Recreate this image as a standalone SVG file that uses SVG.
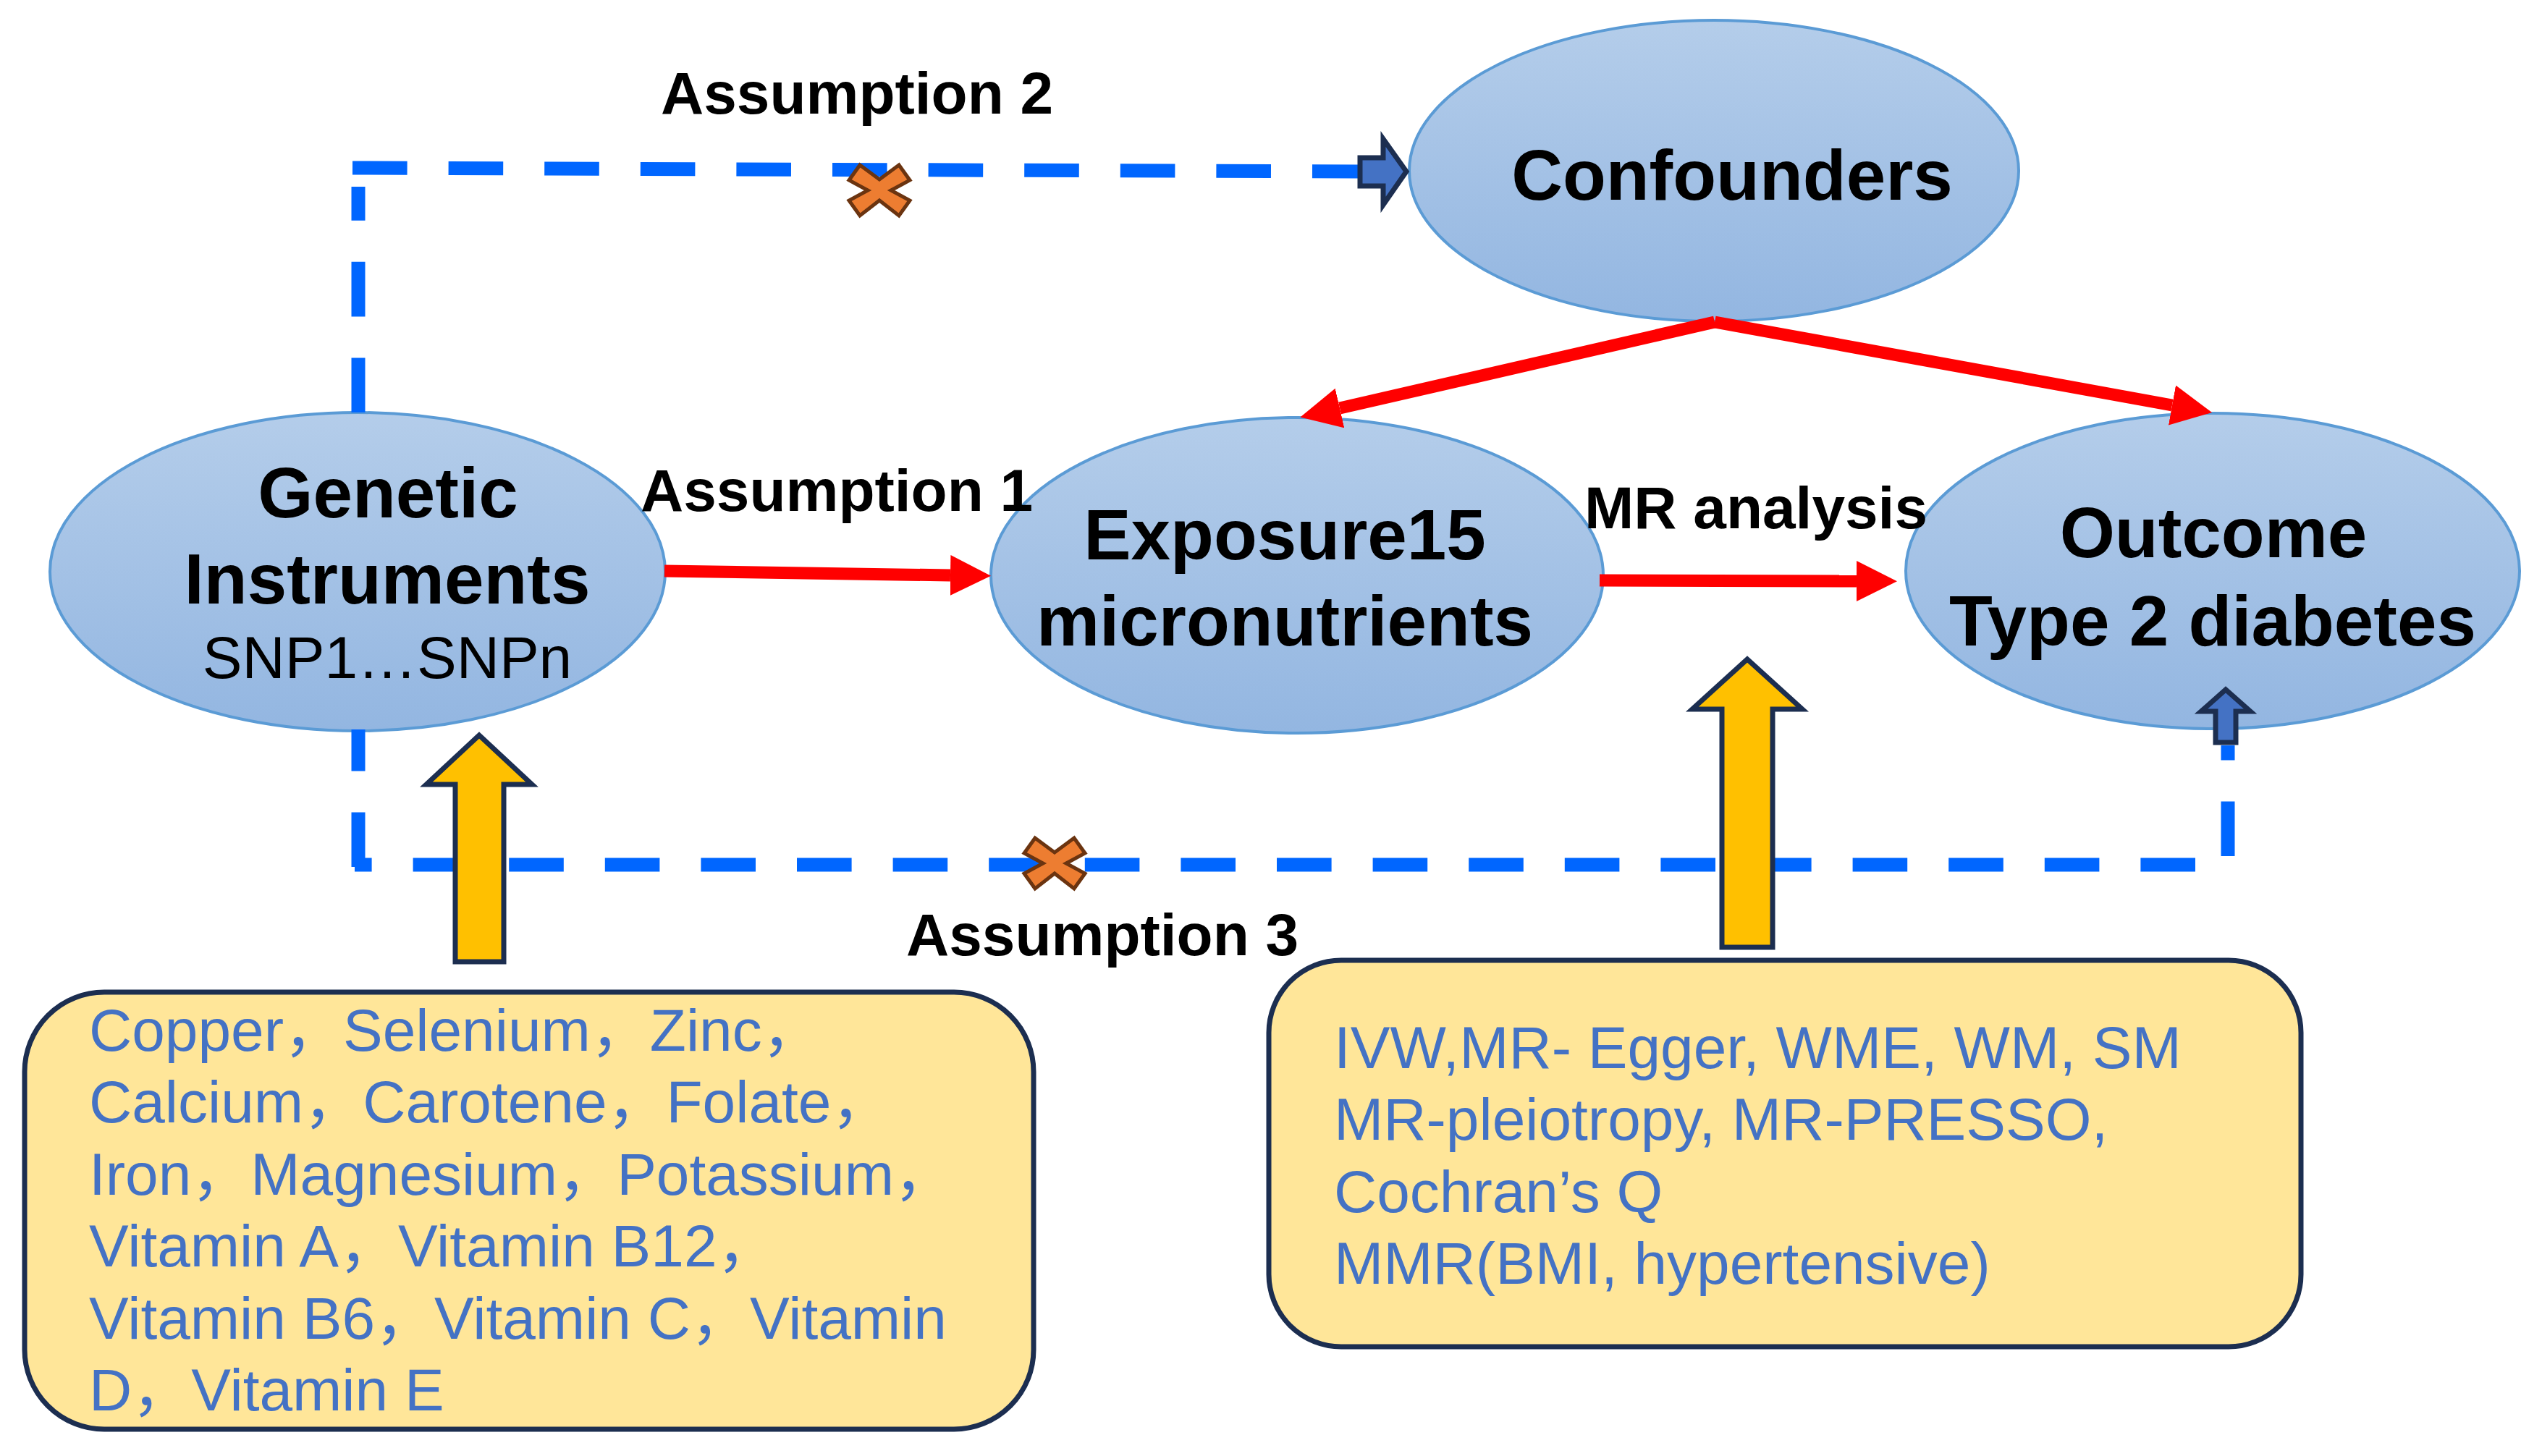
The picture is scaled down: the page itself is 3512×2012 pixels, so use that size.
<svg xmlns="http://www.w3.org/2000/svg" width="3512" height="2012" viewBox="0 0 3512 2012">
<defs>
  <linearGradient id="ellG" x1="0" y1="0" x2="0" y2="1">
    <stop offset="0" stop-color="#B4CDEA"/>
    <stop offset="1" stop-color="#93B6E1"/>
  </linearGradient>
  <marker id="redHead" viewBox="0 0 56 56" refX="0" refY="28" markerWidth="56" markerHeight="56" markerUnits="userSpaceOnUse" orient="auto">
    <path d="M0,0 L56,28 L0,56 Z" fill="#FF0000"/>
  </marker>
  <path id="xmark" d="M-42,-14 L-27,-35 L0,-15 L27,-35 L42,-14 L16,0 L42,14 L27,35 L0,14 L-27,35 L-42,14 L-16,0 Z"/>
</defs>
<style>
  .node ellipse { fill: url(#ellG); stroke: #5B9BD5; stroke-width: 4; }
  .title { font-family: "Liberation Sans", Arial, sans-serif; font-weight: bold; font-size: 98px; fill: #000; text-anchor: middle; }
  .sub { font-family: "Liberation Sans", Arial, sans-serif; font-size: 82px; fill: #000; text-anchor: middle; }
  .label { font-family: "Liberation Sans", Arial, sans-serif; font-weight: bold; font-size: 82px; fill: #000; }
  .dash { fill: none; stroke: #0066FF; stroke-width: 19; stroke-dasharray: 75.6 57; }
  .red { fill: none; stroke: #FF0000; stroke-width: 17; marker-end: url(#redHead); }
  .blk { fill: #4472C4; stroke: #1C2E50; stroke-width: 7; }
  .yarrow { fill: #FFC000; stroke: #1C2E50; stroke-width: 7; }
  .box rect { fill: #FFE699; stroke: #1C2E50; stroke-width: 7; }
  .boxtext { font-family: "Liberation Sans", Arial, "Noto Sans CJK SC", sans-serif; font-size: 82px; fill: #4472C4; }
  .xm { fill: #ED7D31; stroke: #6B3410; stroke-width: 5; }
</style>

<g id="node-genetic" class="node">
  <ellipse cx="494" cy="790" rx="425" ry="220"/>
  <text class="title" x="536" y="715">Genetic</text>
  <text class="title" x="535" y="834">Instruments</text>
  <text class="sub" x="535" y="937">SNP1…SNPn</text>
</g>
<g id="node-exposure" class="node">
  <ellipse cx="1792" cy="795" rx="423" ry="218"/>
  <text class="title" x="1775" y="773">Exposure15</text>
  <text class="title" x="1775" y="892">micronutrients</text>
</g>
<g id="node-confounders" class="node">
  <ellipse cx="2368" cy="236" rx="421" ry="208"/>
  <text class="title" x="2393" y="276">Confounders</text>
</g>
<g id="node-outcome" class="node">
  <ellipse cx="3057" cy="789" rx="424" ry="218"/>
  <text class="title" x="3058" y="770">Outcome</text>
  <text class="title" x="3057" y="892">Type 2 diabetes</text>
</g>

<g id="connectors">
  <path class="dash" d="M495,570 V258"/>
  <path class="dash" d="M487,232 L1878,237"/>
  <path class="dash" d="M495,1198 V1008"/>
  <path class="dash" style="stroke-dashoffset:52" d="M490,1195 H3078 V1030"/>
  <line class="red" x1="918" y1="789" x2="1313" y2="795"/>
  <line class="red" x1="2210" y1="802" x2="2565" y2="803"/>
  <line class="red" x1="2369" y1="445" x2="1851" y2="564"/>
  <line class="red" x1="2369" y1="445" x2="3001" y2="560"/>
  <path class="blk" d="M1879,218 H1911 V192 L1943,237 L1911,283 V257 H1879 Z"/>
  <path class="blk" d="M3061,1026 V983 H3041 L3075,953 L3109,983 H3089 V1026 Z"/>
  <use href="#xmark" class="xm" x="1215" y="263"/>
  <use href="#xmark" class="xm" x="1457" y="1193"/>
  <path class="yarrow" d="M629,1329 V1084 H589 L662,1016 L735,1084 H696 V1329 Z"/>
  <path class="yarrow" d="M2379,1309 V980 H2338 L2414,911 L2490,980 H2449 V1309 Z"/>
</g>

<g id="labels">
  <text class="label" x="913" y="157">Assumption 2</text>
  <text class="label" x="885" y="706">Assumption 1</text>
  <text class="label" x="2189" y="730">MR analysis</text>
  <text class="label" x="1252" y="1320">Assumption 3</text>
</g>

<g id="box-micronutrients" class="box">
  <rect x="34" y="1371" width="1394" height="604" rx="110" ry="110"/>
  <text class="boxtext" x="123" y="1452">Copper，Selenium，Zinc，</text>
  <text class="boxtext" x="123" y="1551">Calcium，Carotene，Folate，</text>
  <text class="boxtext" x="123" y="1651">Iron，Magnesium，Potassium，</text>
  <text class="boxtext" x="123" y="1750">Vitamin A，Vitamin B12，</text>
  <text class="boxtext" x="123" y="1850">Vitamin B6，Vitamin C，Vitamin</text>
  <text class="boxtext" x="123" y="1949">D，Vitamin E</text>
</g>
<g id="box-methods" class="box">
  <rect x="1753" y="1327" width="1426" height="534" rx="100" ry="100"/>
  <text class="boxtext" x="1843" y="1476">IVW,MR- Egger, WME, WM, SM</text>
  <text class="boxtext" x="1843" y="1575">MR-pleiotropy, MR-PRESSO,</text>
  <text class="boxtext" x="1843" y="1675">Cochran’s Q</text>
  <text class="boxtext" x="1843" y="1774">MMR(BMI, hypertensive)</text>
</g>
</svg>
